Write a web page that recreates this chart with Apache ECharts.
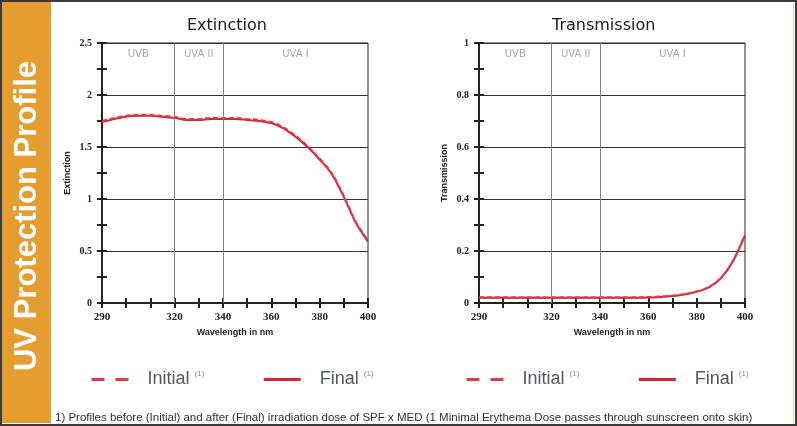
<!DOCTYPE html>
<html>
<head>
<meta charset="utf-8">
<script src="https://cdn.jsdelivr.net/npm/echarts@6/dist/echarts.min.js"></script>
<style>html,body{margin:0;padding:0;background:#fff;}#c{width:797px;height:426px;}</style>
</head>
<body>
<div id="c"></div>
<script>
// ---- data ----
const wavelengths = [290,295,300,305,310,315,320,325,330,335,340,345,350,355,360,365,370,375,380,385,390,395,400];
const extinctionInitial = [1.75,1.78,1.80,1.81,1.81,1.80,1.79,1.77,1.77,1.78,1.78,1.78,1.77,1.76,1.74,1.69,1.61,1.51,1.39,1.25,1.03,0.78,0.60];
const extinctionFinal   = [1.74,1.77,1.79,1.80,1.80,1.79,1.78,1.76,1.76,1.77,1.77,1.77,1.76,1.75,1.73,1.68,1.60,1.50,1.38,1.24,1.02,0.77,0.59];
const transmissionInitial = [0.022,0.022,0.022,0.022,0.022,0.022,0.022,0.022,0.022,0.022,0.022,0.022,0.022,0.022,0.023,0.025,0.028,0.034,0.044,0.061,0.096,0.162,0.262];
const transmissionFinal   = [0.020,0.020,0.020,0.020,0.020,0.020,0.020,0.020,0.020,0.020,0.020,0.020,0.020,0.020,0.021,0.023,0.027,0.033,0.043,0.060,0.095,0.160,0.260];
const xTickLabels = [290,320,340,360,380,400];
const bandNames = ['UVB','UVA II','UVA I'];
const bandEdges = [290,320,340,400];
const seriesNames = ['Initial','Final'];
const chartTitles = ['Extinction','Transmission'];
const footnote = '1) Profiles before (Initial) and after (Final) irradiation dose of SPF x MED (1 Minimal Erythema Dose passes through sunscreen onto skin)';
const sideTitle = 'UV Protection Profile';

// ---- styles ----
const RED_FINAL = '#d42530';
const RED_INIT = '#e53a46';
const AX = '#222';

const pairs = arr => wavelengths.map((w,i)=>[w, arr[i]]);

function xAx(g, main){
  return {
    type:'value', gridIndex:g, min:290, max:400, interval:10, position:'bottom',
    axisLine:{show:true, onZero:false, lineStyle:{color:AX, width:2}},
    axisTick:{show:true, inside:!main, length:5, lineStyle:{color:AX, width:2}},
    axisLabel: main ? {
      show:true, margin:9, color:AX, fontFamily:'Liberation Serif', fontWeight:'bold', fontSize:11,
      formatter: v => xTickLabels.indexOf(v) >= 0 ? String(v) : ''
    } : {show:false},
    splitLine:{show:false},
    name: main ? 'Wavelength in nm' : '',
    nameLocation:'middle', nameGap:21,
    nameTextStyle:{color:AX, fontFamily:'Liberation Sans', fontWeight:'bold', fontSize:9}
  };
}
function yAx(g, main, max, interval, name){
  return {
    type:'value', gridIndex:g, min:0, max:max, interval:interval, position:'left',
    axisLine:{show:true, onZero:false, lineStyle:{color:AX, width:2}},
    axisTick:{show:true, inside:!main, length:5, lineStyle:{color:AX, width:2}},
    minorTick:{show:true, splitNumber:2, length:5, lineStyle:{color:AX, width:2}},
    axisLabel: main ? {show:true, margin:10, color:AX, fontFamily:'Liberation Serif', fontWeight:'bold', fontSize:10} : {show:false},
    splitLine:{show:main, lineStyle:{color:'#333', width:1}},
    name: main ? name : '',
    nameLocation:'middle', nameGap:30,
    nameTextStyle:{color:AX, fontFamily:'Liberation Sans', fontWeight:'bold', fontSize:9}
  };
}

function marks(){
  return {
    markLine:{
      silent:true, symbol:['none','none'], animation:false,
      label:{show:false},
      lineStyle:{color:'#808080', width:1, type:'solid'},
      data: bandEdges.slice(1,-1).map(v=>({xAxis:v}))
    },
    markArea:{
      silent:true, animation:false,
      itemStyle:{color:'rgba(0,0,0,0)'},
      label:{show:true, position:'insideTop', distance:6, color:'#a8a8a8', fontSize:10, fontFamily:'DejaVu Sans'},
      data: bandNames.map((n,i)=>[{name:n, xAxis:bandEdges[i]},{xAxis:bandEdges[i+1]}])
    }
  };
}

function lineSeries(name, data, xi, yi, withMarks){
  const dashed = name === seriesNames[0];
  const s = {
    type:'line', name:name, data:data, xAxisIndex:xi, yAxisIndex:yi,
    smooth:0.3, symbol:'none', animation:false, z: dashed ? 4 : 3,
    lineStyle:{color: dashed ? RED_INIT : RED_FINAL, width:2, type: dashed ? [5,3] : 'solid'},
    itemStyle:{color: dashed ? RED_INIT : RED_FINAL}
  };
  if (withMarks) Object.assign(s, marks());
  return s;
}

function legendAt(left){
  return {
    left:left, top:370, padding:0, orient:'horizontal', itemWidth:37, itemHeight:14, itemGap:58,
    selectedMode:false,
    data:[
      {name:seriesNames[0], itemStyle:{opacity:0}, lineStyle:{width:3, type:[13,11], color:RED_INIT}},
      {name:seriesNames[1], itemStyle:{opacity:0}, lineStyle:{width:3, type:'solid', color:RED_FINAL}}
    ],
    formatter: n => '{n|' + n + '}{s|(1)}',
    textStyle:{
      padding:[0,0,0,14],
      rich:{
        n:{fontSize:18, color:'#4d5866', fontFamily:'Liberation Sans'},
        s:{fontSize:8, color:'#8a8f96', fontFamily:'Liberation Sans', padding:[0,0,11,5]}
      }
    }
  };
}

const titleStyle = {fontFamily:'DejaVu Sans', fontSize:16, fontWeight:'normal', color:'#1a1a1a'};

const option = {
  backgroundColor:'#fff',
  animation:false,
  title:[
    {text:chartTitles[0], left:187, top:18, padding:0, textStyle:titleStyle},
    {text:chartTitles[1], left:552, top:18, padding:0, textStyle:titleStyle},
    {text:footnote, left:55, top:412, padding:0, textStyle:{fontFamily:'Liberation Sans', fontSize:11.5, fontWeight:'normal', color:'#2a2f3a'}}
  ],
  grid:[
    {left:102, top:43, width:266, height:260, show:true, borderColor:'#222', borderWidth:1, backgroundColor:'rgba(0,0,0,0)'},
    {left:479, top:43, width:266, height:260, show:true, borderColor:'#222', borderWidth:1, backgroundColor:'rgba(0,0,0,0)'}
  ],
  xAxis:[xAx(0,true), xAx(0,false), xAx(1,true), xAx(1,false)],
  yAxis:[
    yAx(0,true,2.5,0.5,chartTitles[0]), yAx(0,false,2.5,0.5,''),
    yAx(1,true,1,0.2,chartTitles[1]), yAx(1,false,1,0.2,'')
  ],
  legend:[legendAt(90), legendAt(465)],
  series:[
    lineSeries(seriesNames[1], pairs(extinctionFinal), 0, 0, true),
    lineSeries(seriesNames[0], pairs(extinctionInitial), 0, 0, false),
    lineSeries(seriesNames[1], pairs(transmissionFinal), 2, 2, true),
    lineSeries(seriesNames[0], pairs(transmissionInitial), 2, 2, false)
  ],
  graphic:[
    {type:'rect', z:-10, shape:{x:2, y:2, width:49, height:421}, style:{fill:'#e49d2e'}},
    {type:'rect', z:-9, shape:{x:1, y:1, width:795, height:424}, style:{fill:'none', stroke:'#3a3a3a', lineWidth:2}},
    {type:'line', z:-9, shape:{x1:793.5, y1:3, x2:793.5, y2:423}, style:{stroke:'#edcf9f', lineWidth:1}},
    {type:'text', z:10, x:27, y:216, rotation:Math.PI/2,
      style:{text:sideTitle, fill:'#ffffff', fontFamily:'Liberation Sans', fontWeight:'bold', fontSize:31, align:'center', verticalAlign:'middle'}}
  ]
};

const chart = echarts.init(document.getElementById('c'), null, {renderer:'canvas'});
chart.setOption(option);
</script>
</body>
</html>
